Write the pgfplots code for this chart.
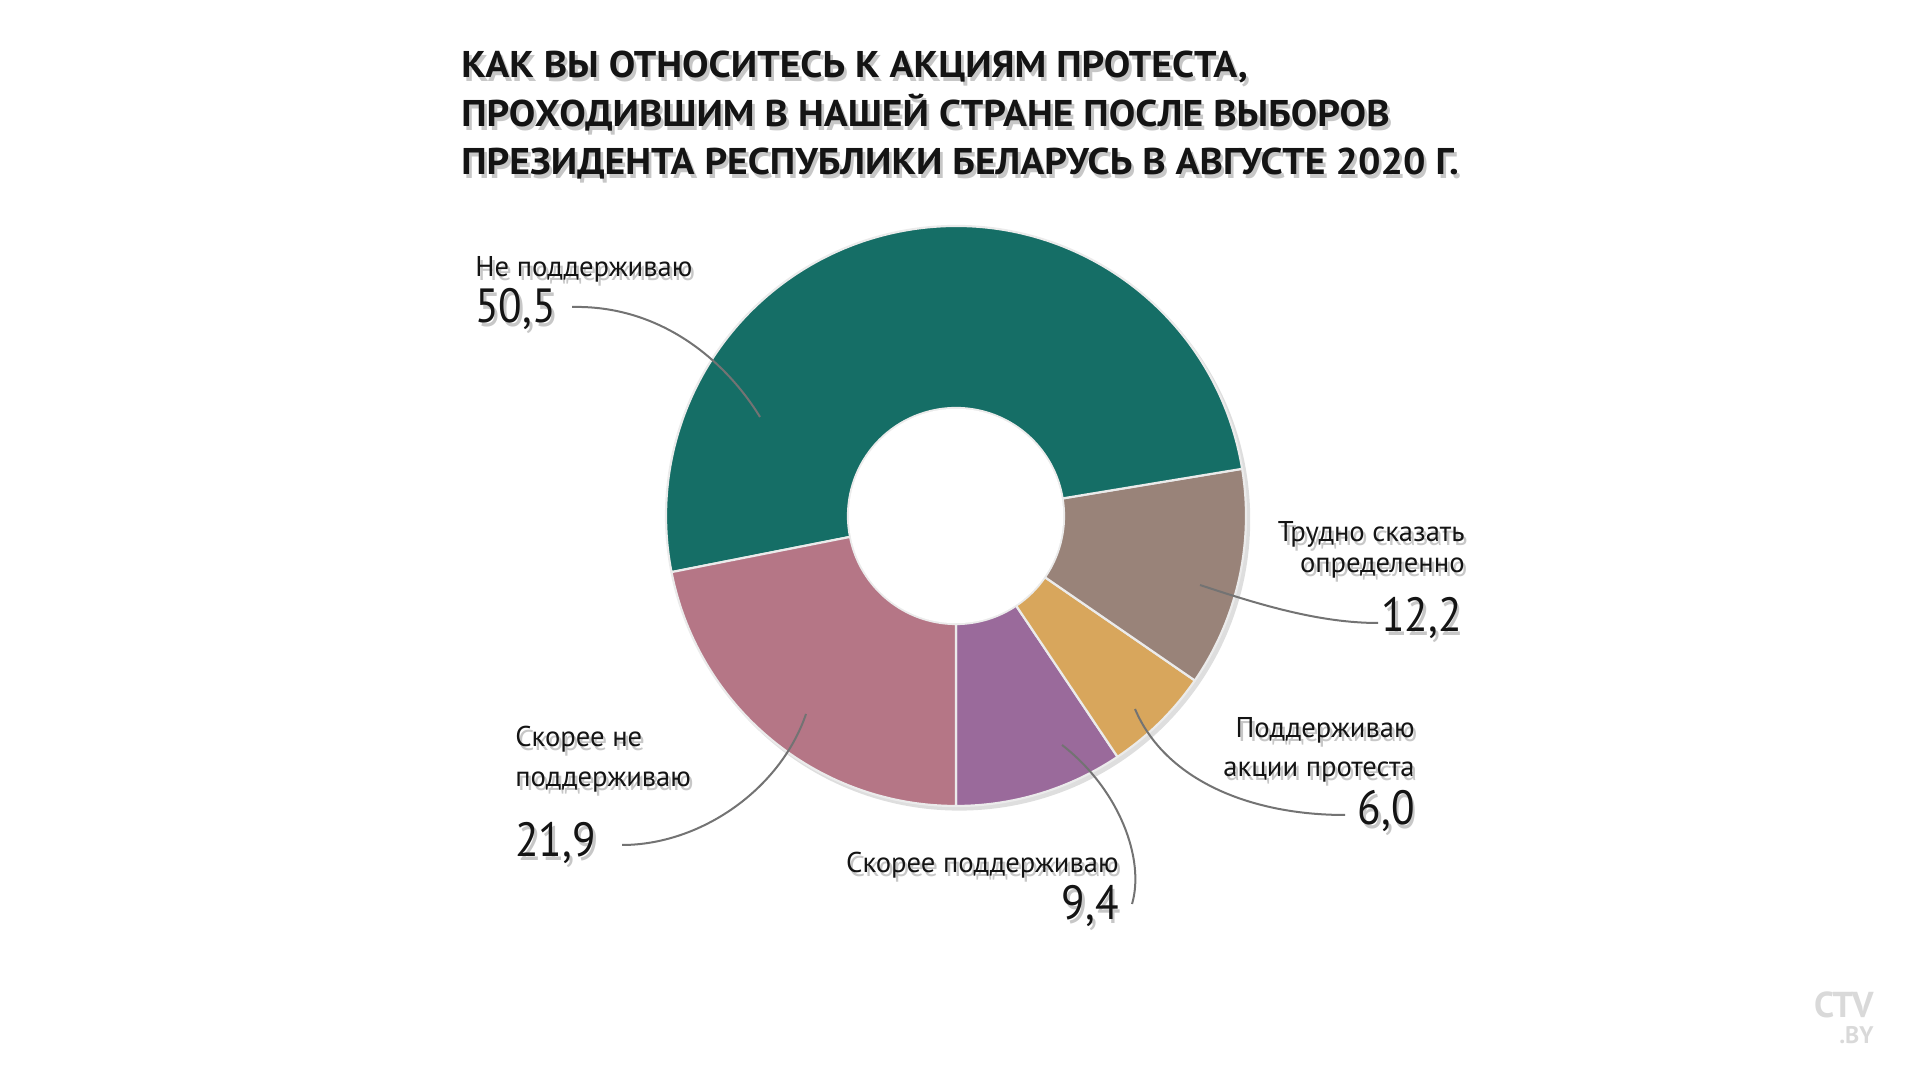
\documentclass[border=0pt]{standalone}
\usepackage{pgfplots}
\pgfplotsset{compat=1.18}
\usepackage{pgfplotstable}
\usepackage{fontspec}
\setmainfont{PT Sans}
\definecolor{cGreen}{RGB}{21,110,102}
\definecolor{cBrown}{RGB}{153,131,121}
\definecolor{cOrange}{RGB}{216,166,92}
\definecolor{cPurple}{RGB}{154,106,155}
\definecolor{cPink}{RGB}{181,118,134}
\definecolor{cLine}{RGB}{115,115,115}

\pgfplotstableread{
idx value col
0 9.4 cPurple
1 6.0 cOrange
2 12.2 cBrown
3 50.5 cGreen
4 21.9 cPink
}\piedata

\newcommand{\lab}[5]{%
  \node[anchor=#1, text=black!40, opacity=0.55, inner sep=0pt] at ([xshift=1.4pt,yshift=-1.6pt]axis cs:#2,#3) {#4#5};
  \node[anchor=#1, text=black!92, inner sep=0pt] at (axis cs:#2,#3) {#4#5};}
\newcommand{\smf}{\fontsize{14.3}{17}\selectfont}
\newcommand{\bigf}{\fontsize{24}{29}\selectfont}
\newcommand{\titf}{\fontsize{18.6}{22}\selectfont\bfseries}
\newcommand{\num}[1]{\scalebox{0.9}[1]{#1}}
\newcommand{\tit}[1]{\scalebox{1.065}[1]{#1}}

\begin{document}
\begin{tikzpicture}
\begin{axis}[x=0.5pt, y=0.5pt, xmin=0, xmax=1910, ymin=0, ymax=1074,
  hide axis, clip=false, anchor=origin, at={(0,0)}]
  % donut shadow
  \fill[black!13] ([xshift=1.6pt,yshift=-1.8pt]axis cs:956,558) circle[radius=145.5pt];
  \xdef\angcur{270}
  \pgfplotsinvokeforeach{0,...,4}{%
    \pgfplotstablegetelem{#1}{value}\of\piedata \let\pieval\pgfplotsretval
    \pgfplotstablegetelem{#1}{col}\of\piedata \let\piecol\pgfplotsretval
    \pgfmathsetmacro\angend{\angcur+3.6*\pieval}%
    \pgfmathsetmacro\angback{\angend+180}%
    \edef\temp{\noexpand\fill[\piecol, draw=white!92!black, line width=1.1pt, line join=round]
      (axis cs:956,558) ++(\angcur:145pt) arc[start angle=\angcur, end angle=\angend, radius=145pt]
      -- ++(\angback:91pt) arc[start angle=\angend, end angle=\angcur, radius=54pt] -- cycle;}%
    \temp
    \xdef\angcur{\angend}%
  }
  \fill[white] (axis cs:956,558) circle[radius=53.6pt];

  % leader lines
  \begin{scope}[line width=1pt, cLine]
    \draw (axis cs:572,767) .. controls (axis cs:660,769) and (axis cs:725,714) .. (axis cs:760,657);
    \draw (axis cs:1200,489) .. controls (axis cs:1260,469) and (axis cs:1320,451) .. (axis cs:1378,451);
    \draw (axis cs:1135,365) .. controls (axis cs:1165,294) and (axis cs:1250,259) .. (axis cs:1345,259);
    \draw (axis cs:1062,329) .. controls (axis cs:1120,284) and (axis cs:1145,214) .. (axis cs:1132,170);
    \draw (axis cs:622,229) .. controls (axis cs:700,229) and (axis cs:780,284) .. (axis cs:806,360);
  \end{scope}

  % title
  \lab{base west}{461}{996}{\titf}{\tit{КАК ВЫ ОТНОСИТЕСЬ К АКЦИЯМ ПРОТЕСТА,}}
  \lab{base west}{461}{947}{\titf}{\tit{ПРОХОДИВШИМ В НАШЕЙ СТРАНЕ ПОСЛЕ ВЫБОРОВ}}
  \lab{base west}{461}{899}{\titf}{\tit{ПРЕЗИДЕНТА РЕСПУБЛИКИ БЕЛАРУСЬ В АВГУСТЕ 2020 Г.}}

  % labels
  \lab{base west}{475}{797}{\smf}{Не поддерживаю}
  \lab{base west}{475}{751}{\bigf}{\num{50,5}}
  \lab{base east}{1465}{532}{\smf}{Трудно сказать}
  \lab{base east}{1465}{501}{\smf}{определенно}
  \lab{base east}{1462}{442}{\bigf}{\num{12,2}}
  \lab{base east}{1415}{336}{\smf}{Поддерживаю}
  \lab{base east}{1415}{297}{\smf}{акции протеста}
  \lab{base east}{1415}{249}{\bigf}{\num{6,0}}
  \lab{base west}{515}{327}{\smf}{Скорее не}
  \lab{base west}{515}{287}{\smf}{поддерживаю}
  \lab{base west}{515}{217}{\bigf}{\num{21,9}}
  \lab{base east}{1119}{201}{\smf}{Скорее поддерживаю}
  \lab{base east}{1119}{154}{\bigf}{\num{9,4}}

  % logo
  \node[anchor=south east, inner sep=0pt, align=right, text=black!15, font=\bfseries]
    at (axis cs:1874,30) {\fontsize{18}{18}\selectfont CTV\\[1pt]\fontsize{12}{12}\selectfont .BY};
\end{axis}
\pgfresetboundingbox
\useasboundingbox (0,0) rectangle (955pt,537pt);
\end{tikzpicture}
\end{document}
